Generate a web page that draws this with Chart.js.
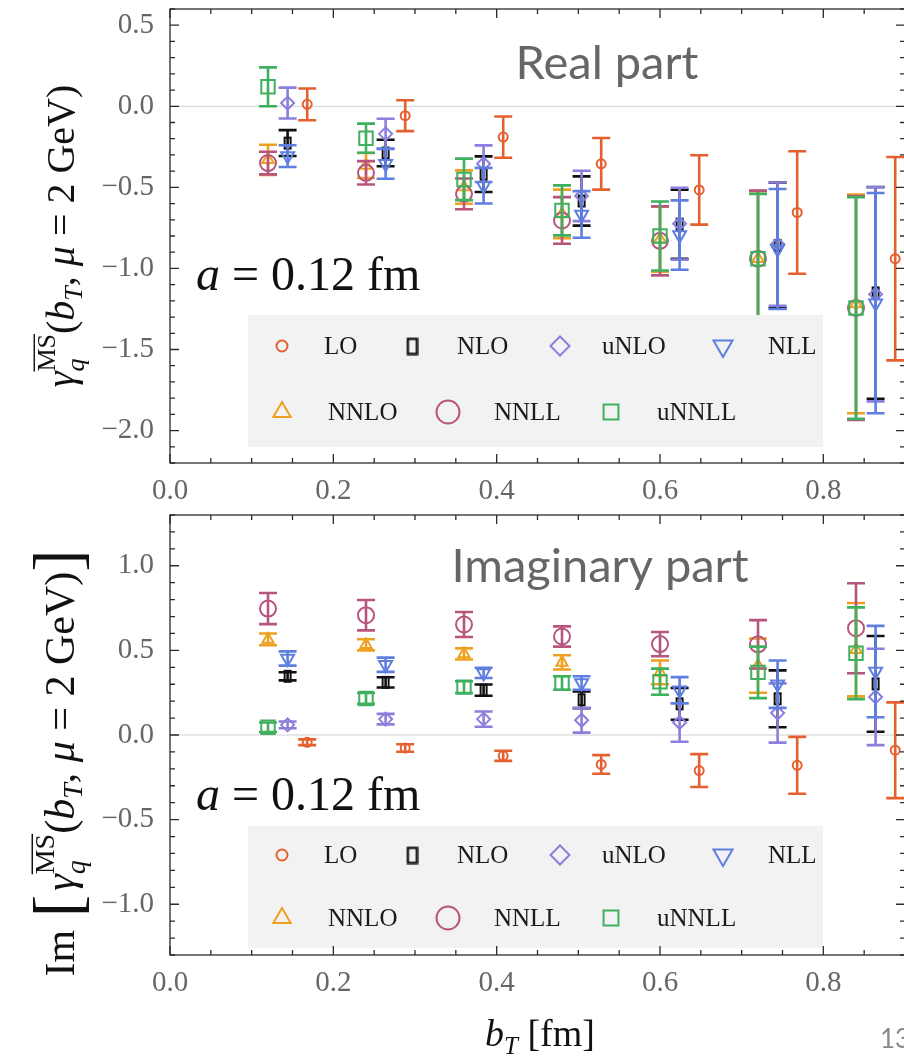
<!DOCTYPE html>
<html>
<head>
<meta charset="utf-8">
<script src="https://cdn.jsdelivr.net/npm/chart.js@4.4.1/dist/chart.umd.min.js"></script>
<style>
  html, body { margin: 0; padding: 0; background: #fff; overflow: hidden; }
  #wrap { position: relative; width: 904px; height: 1061px; overflow: hidden; }
  canvas { position: absolute; left: 0; display: block; }
  #realChart { top: 0; }
  #imagChart { top: 505px; }
</style>
</head>
<body>
<div id="wrap">
  <canvas id="realChart" width="906" height="512"></canvas>
  <canvas id="imagChart" width="906" height="556"></canvas>
</div>
<script>
// b_T values (fm) and the small horizontal shift used for each order
const bT = [0.12, 0.24, 0.36, 0.48, 0.60, 0.72, 0.84];
const seriesNames = ['LO', 'NLO', 'uNLO', 'NLL', 'NNLO', 'NNLL', 'uNNLL'];
const bTShift = [0.048, 0.024, 0.024, 0.024, 0, 0, 0];

// real part
const reLO      = [0.012, -0.058, -0.19, -0.355, -0.516, -0.655, -0.94];
const reLOErr   = [0.098, 0.095, 0.127, 0.159, 0.214, 0.378, 0.627];
const reNLO     = [-0.227, -0.288, -0.419, -0.584, -0.727, -0.858, -1.151];
const reNLOErr  = [0.08, 0.082, 0.11, 0.152, 0.213, 0.387, 0.653];
const reUNLO    = [0.02, -0.17, -0.354, -0.553, -0.724, -0.85, -1.16];
const reUNLOErr = [0.095, 0.093, 0.113, 0.155, 0.222, 0.38, 0.66];
const reNLL     = [-0.307, -0.354, -0.49, -0.667, -0.794, -0.88, -1.214];
const reNLLErr  = [0.067, 0.093, 0.11, 0.144, 0.214, 0.37, 0.679];
const reNNLO    = [-0.33, -0.365, -0.498, -0.664, -0.82, -0.94, -1.219];
const reNNLOErr = [0.093, 0.077, 0.103, 0.15, 0.2, 0.417, 0.674];
const reNNLL    = [-0.35, -0.41, -0.54, -0.704, -0.83, -0.94, -1.244];
const reNNLLErr = [0.07, 0.072, 0.095, 0.144, 0.213, 0.42, 0.69];
const reUNNLL    = [0.12, -0.197, -0.451, -0.642, -0.8, -0.94, -1.244];
const reUNNLLErr = [0.12, 0.09, 0.128, 0.154, 0.213, 0.4, 0.684];

// imaginary part
const imLO      = [-0.043, -0.077, -0.123, -0.174, -0.21, -0.179, -0.09];
const imLOErr   = [0.017, 0.022, 0.03, 0.055, 0.097, 0.168, 0.283];
const imNLO     = [0.347, 0.311, 0.265, 0.208, 0.184, 0.214, 0.302];
const imNLOErr  = [0.024, 0.03, 0.033, 0.05, 0.094, 0.168, 0.283];
const imUNLO    = [0.06, 0.094, 0.094, 0.087, 0.074, 0.13, 0.225];
const imUNLOErr = [0.02, 0.031, 0.045, 0.073, 0.114, 0.175, 0.285];
const imNLL     = [0.452, 0.415, 0.367, 0.307, 0.265, 0.30, 0.375];
const imNLLErr  = [0.042, 0.042, 0.03, 0.04, 0.077, 0.14, 0.27];
const imNNLO    = [0.565, 0.533, 0.479, 0.429, 0.37, 0.41, 0.504];
const imNNLOErr = [0.035, 0.033, 0.033, 0.042, 0.07, 0.16, 0.276];
const imNNLL    = [0.747, 0.708, 0.653, 0.582, 0.537, 0.536, 0.631];
const imNNLLErr = [0.092, 0.09, 0.074, 0.06, 0.072, 0.143, 0.266];
const imUNNLL    = [0.046, 0.216, 0.283, 0.307, 0.315, 0.37, 0.483];
const imUNNLLErr = [0.028, 0.032, 0.035, 0.04, 0.077, 0.152, 0.271];

const xTicks = [0, 0.2, 0.4, 0.6, 0.8];
const reTicks = [0.5, 0, -0.5, -1.0, -1.5, -2.0];
const imTicks = [1.0, 0.5, 0, -0.5, -1.0];

const serif = '"Liberation Serif", "DejaVu Serif", serif';
const seriesColors = ['#e5602f', '#111111', '#8a7fdc', '#5f7fe0', '#f0a020', '#b8557f', '#3eb05e'];

// narrow open rectangle used for NLO
function barMarker(w, h, color, lw) {
    const c = document.createElement('canvas');
    c.width = w + lw * 2;
    c.height = h + lw * 2;
    const g = c.getContext('2d');
    g.strokeStyle = color;
    g.lineWidth = lw;
    g.strokeRect(lw, lw, w, h);
    return c;
}

const markerStyles = [
    { pointStyle: 'circle', radius: 4.5 },
    { pointStyle: barMarker(6, 11, seriesColors[1], 2), radius: 6 },
    { pointStyle: 'rectRot', radius: 6.5 },
    { pointStyle: 'triangle', radius: 7.5, rotation: 180 },
    { pointStyle: 'triangle', radius: 6.5 },
    { pointStyle: 'circle', radius: 8 },
    { pointStyle: 'rect', radius: 9.5 }
];
const legendMarkers = [
    { pointStyle: 'circle', radius: 5.5 },
    { pointStyle: barMarker(9, 15, seriesColors[1], 2.4), radius: 8 },
    { pointStyle: 'rectRot', radius: 9.5 },
    { pointStyle: 'triangle', radius: 11, rotation: 180 },
    { pointStyle: 'triangle', radius: 10 },
    { pointStyle: 'circle', radius: 11.5 },
    { pointStyle: 'rect', radius: 10.5 }
];

function buildDatasets(values, errors) {
    return seriesNames.map((name, i) => ({
        label: name,
        data: bT.map((b, k) => ({ x: b + bTShift[i], y: values[i][k], err: errors[i][k] })),
        borderColor: seriesColors[i],
        backgroundColor: 'rgba(0,0,0,0)',
        pointStyle: markerStyles[i].pointStyle,
        pointRadius: markerStyles[i].radius,
        pointRotation: markerStyles[i].rotation || 0,
        pointBorderWidth: 2,
        pointHoverRadius: markerStyles[i].radius,
        order: seriesNames.length - i
    }));
}

// ---- small math typesetting on canvas ----
function fontOf(r, S) {
    return (r.i ? 'italic ' : '') + Math.round((r.s || 1) * S) + 'px ' + serif;
}
function runWidth(ctx, r, S) {
    if (r.stack) return Math.max(...r.stack.map(q => runWidth(ctx, q, S)));
    ctx.font = fontOf(r, S);
    return ctx.measureText(r.t).width + (r.gap || 0) * S;
}
function drawRun(ctx, r, x, S) {
    if (r.stack) { r.stack.forEach(q => drawRun(ctx, q, x, S)); return; }
    ctx.font = fontOf(r, S);
    const y = (r.dy || 0) * S;
    ctx.fillText(r.t, x, y);
    if (r.over) {
        const w = ctx.measureText(r.t).width;
        ctx.fillRect(x, y - (r.s || 1) * S * 0.82, w, Math.max(1.2, S * 0.035));
    }
}
function mathText(ctx, runs, x, y, S, opt) {
    ctx.save();
    ctx.translate(x, y);
    if (opt.rotate) ctx.rotate(-Math.PI / 2);
    ctx.textBaseline = 'alphabetic';
    ctx.textAlign = 'left';
    ctx.fillStyle = opt.color || '#111';
    const widths = runs.map(r => runWidth(ctx, r, S));
    const total = widths.reduce((a, b) => a + b, 0);
    let cx = opt.align === 'center' ? -total / 2 : 0;
    runs.forEach((r, k) => { drawRun(ctx, r, cx, S); cx += widths[k]; });
    ctx.restore();
}

const gammaRuns = [
    { t: 'γ', i: true },
    { stack: [{ t: 'MS', s: 0.66, dy: -0.47, over: true }, { t: 'q', s: 0.66, i: true, dy: 0.26 }] },
    { t: '(' },
    { t: 'b', i: true },
    { t: 'T', s: 0.66, i: true, dy: 0.2 },
    { t: ', ' },
    { t: 'μ', i: true },
    { t: ' = 2 GeV)' }
];
const imRuns = [{ t: 'Im', gap: 0.3 }, { t: '[', s: 1.6, dy: 0.15, gap: 0.1 }]
    .concat(gammaRuns, [{ t: ']', s: 1.6, dy: 0.15 }]);
const spacingRuns = [{ t: 'a', i: true }, { t: ' = 0.12 fm' }];
const xTitleRuns = [{ t: 'b', i: true }, { t: 'T', s: 0.66, i: true, dy: 0.2 }, { t: ' [fm]' }];

// ---- panel decorations: error bars, zero line, frame, legend, labels ----
function panelDecor(cfg) {
    return {
        id: 'panelDecor',
        beforeDatasetsDraw(chart) {
            const { ctx, chartArea: a } = chart;
            const y0 = chart.scales.y.getPixelForValue(0);
            ctx.save();
            ctx.strokeStyle = '#d0d0d0';
            ctx.lineWidth = 1;
            ctx.beginPath();
            ctx.moveTo(a.left, y0);
            ctx.lineTo(a.right, y0);
            ctx.stroke();
            ctx.restore();
        },
        beforeDatasetDraw(chart, args) {
            const ds = chart.data.datasets[args.index];
            const { ctx, chartArea: a } = chart;
            const xs = chart.scales.x, ys = chart.scales.y;
            ctx.save();
            ctx.beginPath();
            ctx.rect(a.left, a.top, a.right - a.left, a.bottom - a.top);
            ctx.clip();
            ctx.strokeStyle = ds.borderColor;
            ctx.lineWidth = 2.6;
            ds.data.forEach(p => {
                const px = xs.getPixelForValue(p.x);
                const top = ys.getPixelForValue(p.y + p.err);
                const bot = ys.getPixelForValue(p.y - p.err);
                ctx.beginPath();
                ctx.moveTo(px, top); ctx.lineTo(px, bot);
                ctx.moveTo(px - 9, top); ctx.lineTo(px + 9, top);
                ctx.moveTo(px - 9, bot); ctx.lineTo(px + 9, bot);
                ctx.stroke();
            });
            ctx.restore();
        },
        afterDatasetsDraw(chart) {
            const { ctx } = chart;
            // legend box inside the plot
            const L = cfg.legend;
            ctx.save();
            ctx.fillStyle = '#f2f2f2';
            ctx.fillRect(L.left, L.top, L.width, L.height);
            const slots = [[34, 76], [164, 209], [312, 354], [475, 520], [34, 80], [200, 246], [363, 409]];
            ctx.font = '25px ' + serif;
            ctx.textBaseline = 'middle';
            ctx.textAlign = 'left';
            seriesNames.forEach((name, i) => {
                const rowY = L.top + (i < 4 ? L.row1 : L.row2);
                const m = legendMarkers[i];
                ctx.strokeStyle = seriesColors[i];
                ctx.fillStyle = 'rgba(0,0,0,0)';
                ctx.lineWidth = 2;
                Chart.helpers.drawPoint(ctx, {
                    pointStyle: m.pointStyle, radius: m.radius,
                    rotation: m.rotation || 0, borderWidth: 2
                }, L.left + slots[i][0], rowY);
                ctx.fillStyle = '#1a1a1a';
                ctx.fillText(name, L.left + slots[i][1], rowY + 1);
            });
            ctx.restore();

            // panel heading and lattice spacing
            ctx.save();
            ctx.fillStyle = '#666';
            ctx.font = '47px Lato, "Noto Sans", sans-serif';
            ctx.textAlign = 'center';
            ctx.textBaseline = 'alphabetic';
            ctx.fillText(cfg.heading, cfg.headingX, cfg.headingY);
            ctx.restore();
            mathText(ctx, spacingRuns, 196, cfg.spacingY, 48, { color: '#111' });
        },
        afterDraw(chart) {
            const { ctx, chartArea: a } = chart;
            const xs = chart.scales.x, ys = chart.scales.y;
            ctx.save();
            ctx.strokeStyle = '#2b2b2b';
            ctx.lineWidth = 1.3;
            ctx.strokeRect(a.left, a.top, a.right - a.left, a.bottom - a.top);
            ctx.beginPath();
            for (let k = 0; k <= 18; k++) {
                const px = xs.getPixelForValue(k * 0.05);
                const len = k % 4 === 0 ? 9 : 5;
                ctx.moveTo(px, a.bottom); ctx.lineTo(px, a.bottom - len);
                ctx.moveTo(px, a.top); ctx.lineTo(px, a.top + len);
            }
            const lo = Math.ceil(ys.min * 10), hi = Math.floor(ys.max * 10);
            for (let k = lo; k <= hi; k++) {
                const py = ys.getPixelForValue(k / 10);
                const len = k % 5 === 0 ? 9 : 5;
                ctx.moveTo(a.left, py); ctx.lineTo(a.left + len, py);
                ctx.moveTo(a.right, py); ctx.lineTo(a.right - len, py);
            }
            ctx.stroke();
            ctx.restore();

            // rotated axis title
            mathText(ctx, cfg.yTitle, 74, cfg.yTitleY, cfg.yTitleSize, { rotate: true, align: 'center', color: '#111' });
            if (cfg.xTitle) {
                mathText(ctx, xTitleRuns, 540, cfg.xTitleY, 38, { align: 'center', color: '#111' });
                ctx.save();
                ctx.fillStyle = '#888';
                ctx.font = '26px Lato, "Noto Sans", sans-serif';
                ctx.fillText('13', 880, cfg.xTitleY + 2);
                ctx.restore();
            }
        }
    };
}

function fmtTick(v) {
    return (v < 0 ? '\u2212' : '') + Math.abs(v).toFixed(1);
}

function makeChart(canvasId, values, errors, yMin, yMax, yTickList, padTop, xHeight, cfg) {
    return new Chart(document.getElementById(canvasId), {
        type: 'scatter',
        data: { datasets: buildDatasets(values, errors) },
        options: {
            responsive: false,
            animation: false,
            devicePixelRatio: 1,
            layout: { autoPadding: false, padding: { top: padTop, right: 1, left: 0, bottom: 0 } },
            plugins: { legend: { display: false }, tooltip: { enabled: false } },
            scales: {
                x: {
                    type: 'linear', min: 0, max: 0.9,
                    grid: { display: false }, border: { display: false },
                    afterBuildTicks: s => { s.ticks = xTicks.map(v => ({ value: v })); },
                    afterFit: s => { s.height = xHeight; s.paddingLeft = 0; s.paddingRight = 0; },
                    ticks: {
                        callback: fmtTick, color: '#666', padding: 3, maxRotation: 0,
                        font: { family: serif, size: 29 }
                    }
                },
                y: {
                    type: 'linear', min: yMin, max: yMax,
                    grid: { display: false }, border: { display: false },
                    afterBuildTicks: s => { s.ticks = yTickList.map(v => ({ value: v })); },
                    afterFit: s => { s.width = 170; s.paddingTop = 0; s.paddingBottom = 0; },
                    ticks: {
                        callback: fmtTick, color: '#666', padding: 8,
                        font: { family: serif, size: 29 }
                    }
                }
            }
        },
        plugins: [panelDecor(cfg)]
    });
}

makeChart('realChart',
    [reLO, reNLO, reUNLO, reNLL, reNNLO, reNNLL, reUNNLL],
    [reLOErr, reNLOErr, reUNLOErr, reNLLErr, reNNLOErr, reNNLLErr, reUNNLLErr],
    -2.2, 0.6, reTicks, 9, 49,
    {
        heading: 'Real part', headingX: 607, headingY: 79,
        spacingY: 290,
        legend: { left: 248, top: 315, width: 575, height: 132, row1: 31, row2: 97 },
        yTitle: gammaRuns, yTitleY: 236, yTitleSize: 40
    });

makeChart('imagChart',
    [imLO, imNLO, imUNLO, imNLL, imNNLO, imNNLL, imUNNLL],
    [imLOErr, imNLOErr, imUNLOErr, imNLLErr, imNNLOErr, imNNLLErr, imUNNLLErr],
    -1.3, 1.3, imTicks, 10, 106,
    {
        heading: 'Imaginary part', headingX: 600, headingY: 77,
        spacingY: 305,
        legend: { left: 248, top: 321, width: 575, height: 122, row1: 29, row2: 92 },
        yTitle: imRuns, yTitleY: 258, yTitleSize: 42,
        xTitle: true, xTitleY: 541
    });
</script>
</body>
</html>
